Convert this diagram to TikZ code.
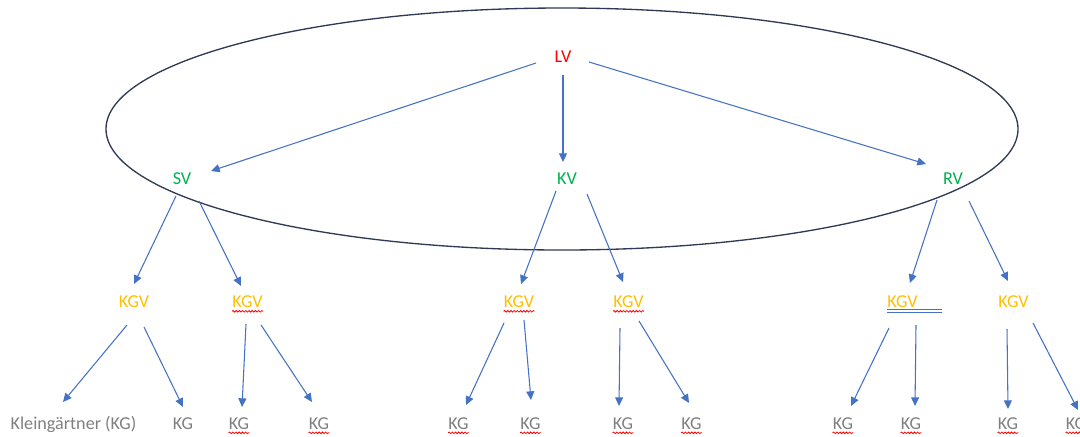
\documentclass[tikz,border=0pt]{standalone}
\usepackage{fontspec}
\setmainfont{Carlito}
\usepackage{tikz}
\usetikzlibrary{arrows.meta,%
                shapes,decorations.pathmorphing}

\definecolor{lvred}{HTML}{FF0000}
\definecolor{vgreen}{HTML}{00B050}
\definecolor{kgvgold}{HTML}{FFC000}
\definecolor{kggray}{HTML}{7F7F7F}
\definecolor{linkblue}{HTML}{4472C4}
\definecolor{ringnavy}{HTML}{2F3B55}

\tikzset{
  lbl/.style={inner sep=0pt, text height=8.7pt, text depth=0pt,
              font=\fontsize{13.6}{15}\selectfont},
  link/.style={draw=linkblue, line width=0.8pt,
               -{Triangle[length=6.5pt,width=6pt]}},
  squiggle/.style={draw=red, line width=0.6pt, decorate,
                   decoration={snake, segment length=2.4pt, amplitude=0.6pt}},
}

\begin{document}
\begin{tikzpicture}[x=0.75pt,y=-0.75pt]
\useasboundingbox (0,0) rectangle (1080,436);

\node[draw=ringnavy, line width=1pt, ellipse, inner sep=0pt,
      minimum width=684pt, minimum height=181.5pt] (ring) at (562,129) {};

\node[lbl, text=lvred] (LV) at (563,57) {LV};
\node[lbl, text=vgreen] (SV) at (182,178.5) {SV};
\node[lbl, text=vgreen] (KV) at (567,178.5) {KV};
\node[lbl, text=vgreen] (RV) at (953,178.5) {RV};

\node[lbl, text=kgvgold] (KGV1) at (134,302) {KGV};
\node[lbl, text=kgvgold] (KGV2) at (247.5,302) {KGV};
\node[lbl, text=kgvgold] (KGV3) at (519,302) {KGV};
\node[lbl, text=kgvgold] (KGV4) at (628.5,302) {KGV};
\node[lbl, text=kgvgold] (KGV5) at (902.5,302) {KGV};
\node[lbl, text=kgvgold] (KGV6) at (1013.5,302) {KGV};

\node[lbl, text=kggray] (KG1) at (73.5,423.5) {Kleingärtner (KG)};
\node[lbl, text=kggray] (KG2) at (183,423.5) {KG};
\node[lbl, text=kggray] (KG3) at (239,423.5) {KG};
\node[lbl, text=kggray] (KG4) at (319,423.5) {KG};
\node[lbl, text=kggray] (KG5) at (458.5,423.5) {KG};
\node[lbl, text=kggray] (KG6) at (530.5,423.5) {KG};
\node[lbl, text=kggray] (KG7) at (623,423.5) {KG};
\node[lbl, text=kggray] (KG8) at (691.5,423.5) {KG};
\node[lbl, text=kggray] (KG9) at (843,423.5) {KG};
\node[lbl, text=kggray] (KG10) at (911,423.5) {KG};
\node[lbl, text=kggray] (KG11) at (1008,423.5) {KG};
\node[lbl, text=kggray] (KG12) at (1076,423.5) {KG};

% top level
\draw[link] ([shift={(-27,6)}]LV.center) -- ([shift={(29,-7.5)}]SV.center);
\draw[link] ([shift={(0,18)}]LV.center) -- ([shift={(-4,-16.5)}]KV.center);
\draw[link] ([shift={(26,5)}]LV.center) -- ([shift={(-27,-14.5)}]RV.center);

% second level
\draw[link] ([shift={(-6,17.5)}]SV.center) -- ([shift={(0,-18)}]KGV1.center);
\draw[link] ([shift={(17,22.5)}]SV.center) -- ([shift={(-6.5,-16)}]KGV2.center);
\draw[link] ([shift={(-11,12.5)}]KV.center) -- ([shift={(2,-18)}]KGV3.center);
\draw[link] ([shift={(20,15.5)}]KV.center) -- ([shift={(-5.5,-20)}]KGV4.center);
\draw[link] ([shift={(-16,21.5)}]RV.center) -- ([shift={(7.5,-19)}]KGV5.center);
\draw[link] ([shift={(16,22.5)}]RV.center) -- ([shift={(-5.5,-21)}]KGV6.center);

% third level
\draw[link] ([shift={(-7,23)}]KGV1.center) -- ([shift={(-10.5,-21.5)}]KG1.center);
\draw[link] ([shift={(10,25)}]KGV1.center) -- ([shift={(0,-16.5)}]KG2.center);
\draw[link] ([shift={(-1.5,22)}]KGV2.center) -- ([shift={(3,-16.5)}]KG3.center);
\draw[link] ([shift={(13.5,23)}]KGV2.center) -- ([shift={(-7,-21.5)}]KG4.center);
\draw[link] ([shift={(-15,21)}]KGV3.center) -- ([shift={(7.5,-18.5)}]KG5.center);
\draw[link] ([shift={(5,18)}]KGV3.center) -- ([shift={(0.5,-23.5)}]KG6.center);
\draw[link] ([shift={(-8.5,26)}]KGV4.center) -- ([shift={(-4,-17.5)}]KG7.center);
\draw[link] ([shift={(10.5,19)}]KGV4.center) -- ([shift={(-2.5,-20.5)}]KG8.center);
\draw[link] ([shift={(-13.5,26)}]KGV5.center) -- ([shift={(8,-17.5)}]KG9.center);
\draw[link] ([shift={(13.5,23)}]KGV5.center) -- ([shift={(4,-17.5)}]KG10.center);
\draw[link] ([shift={(-6.5,27)}]KGV6.center) -- ([shift={(0,-14.5)}]KG11.center);
\draw[link] ([shift={(19.5,21)}]KGV6.center) -- ([shift={(2,-13.5)}]KG12.center);

% spell check marks
\draw[squiggle] ([shift={(0,3.5)}]KGV2.base west) -- ([shift={(0,3.5)}]KGV2.base east);
\draw[squiggle] ([shift={(0,3.5)}]KGV3.base west) -- ([shift={(0,3.5)}]KGV3.base east);
\draw[squiggle] ([shift={(0,3.5)}]KGV4.base west) -- ([shift={(0,3.5)}]KGV4.base east);
\draw[squiggle] ([shift={(0,3.5)}]KG3.base west) -- ([shift={(0,3.5)}]KG3.base east);
\draw[squiggle] ([shift={(0,3.5)}]KG4.base west) -- ([shift={(0,3.5)}]KG4.base east);
\draw[squiggle] ([shift={(0,3.5)}]KG5.base west) -- ([shift={(0,3.5)}]KG5.base east);
\draw[squiggle] ([shift={(0,3.5)}]KG6.base west) -- ([shift={(0,3.5)}]KG6.base east);
\draw[squiggle] ([shift={(0,3.5)}]KG7.base west) -- ([shift={(0,3.5)}]KG7.base east);
\draw[squiggle] ([shift={(0,3.5)}]KG8.base west) -- ([shift={(0,3.5)}]KG8.base east);
\draw[squiggle] ([shift={(0,3.5)}]KG9.base west) -- ([shift={(0,3.5)}]KG9.base east);
\draw[squiggle] ([shift={(0,3.5)}]KG10.base west) -- ([shift={(0,3.5)}]KG10.base east);
\draw[squiggle] ([shift={(0,3.5)}]KG11.base west) -- ([shift={(0,3.5)}]KG11.base east);
\draw[squiggle] ([shift={(0,3.5)}]KG12.base west) -- ([shift={(0,3.5)}]KG12.base east);
\draw[linkblue, line width=0.6pt] ([shift={(0,1.5)}]KGV5.base west) -- ++(55,0);
\draw[linkblue, line width=0.6pt] ([shift={(0,4.5)}]KGV5.base west) -- ++(55,0);
\end{tikzpicture}
\end{document}
